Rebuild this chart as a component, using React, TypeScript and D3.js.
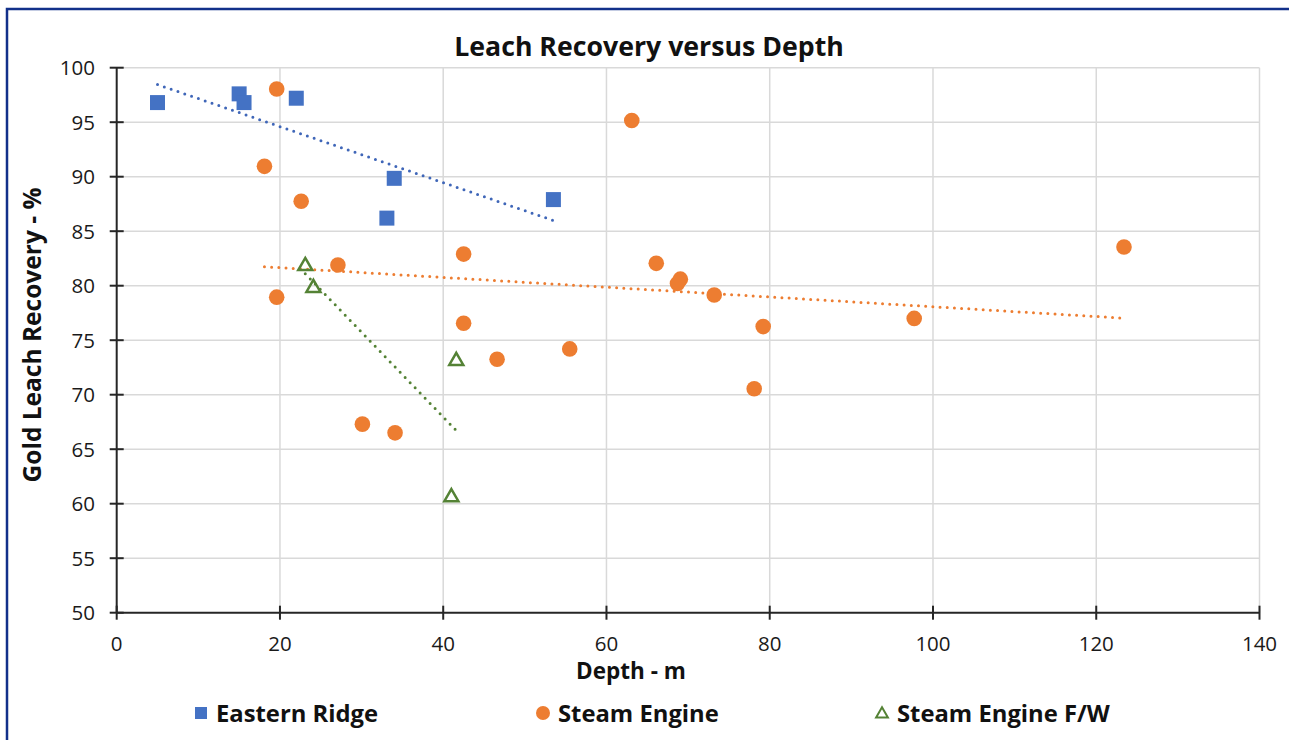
import { useEffect, useRef } from "react";
import * as d3 from "d3";

// values: [depth m, recovery %]
const easternRidge: [number, number][] = [
  [5.0, 96.8], [15.0, 97.6], [15.6, 96.8], [22.0, 97.2],
  [34.0, 89.85], [33.1, 86.2], [53.5, 87.9],
];
const steamEngine: [number, number][] = [
  [19.6, 98.05], [18.1, 90.95], [22.6, 87.75], [27.1, 81.9], [19.6, 78.95],
  [42.5, 82.9], [42.5, 76.55], [46.6, 73.25], [55.5, 74.2], [30.1, 67.3],
  [34.1, 66.5], [63.1, 95.15], [66.1, 82.05], [69.05, 80.6], [68.7, 80.2],
  [73.2, 79.15], [79.2, 76.25], [78.1, 70.55], [97.7, 77.0], [123.4, 83.55],
];
const steamEngineFW: [number, number][] = [
  [23.1, 81.8], [24.1, 79.8], [41.6, 73.1], [41.0, 60.6],
];
const xTicks = [0, 20, 40, 60, 80, 100, 120, 140];
const yTicks = [50, 55, 60, 65, 70, 75, 80, 85, 90, 95, 100];
const seriesNames = ["Eastern Ridge", "Steam Engine", "Steam Engine F/W"];

const BLUE = "#4472C4", ORANGE = "#ED7D31", GREEN = "#548235";
const FONT = "'Open Sans', Lato, sans-serif";

// least squares fit, drawn from min x to max x like Excel's linear trendline
function trend(pts: [number, number][]): [number, number][] {
  const mx = d3.mean(pts, d => d[0])!, my = d3.mean(pts, d => d[1])!;
  const sxy = d3.sum(pts, d => (d[0] - mx) * (d[1] - my));
  const sxx = d3.sum(pts, d => (d[0] - mx) ** 2);
  const b = sxy / sxx, a = my - b * mx;
  const [x0, x1] = d3.extent(pts, d => d[0]) as [number, number];
  return [[x0, a + b * x0], [x1, a + b * x1]];
}

export default function App() {
  const svgRef = useRef<SVGSVGElement>(null);

  useEffect(() => {
    const svg = d3.select(svgRef.current);
    svg.selectAll("*").remove();
    const width = 1289, height = 740;
    svg.attr("width", width).attr("height", height);

    svg.append("rect").attr("x", 7).attr("y", 9).attr("width", width).attr("height", height)
      .attr("fill", "#fff").attr("stroke", "#12308a").attr("stroke-width", 2.5);

    const x = d3.scaleLinear().domain([0, 140]).range([116.7, 1259.5]);
    const y = d3.scaleLinear().domain([50, 100]).range([612.7, 67.7]);
    const g = svg.append("g");

    // grid
    g.selectAll(".hg").data(yTicks.slice(1)).enter().append("line")
      .attr("x1", x(0)).attr("x2", x(140)).attr("y1", d => y(d)).attr("y2", d => y(d))
      .attr("stroke", "#d9d9d9").attr("stroke-width", 1.5);
    g.selectAll(".vg").data(xTicks.slice(1)).enter().append("line")
      .attr("x1", d => x(d)).attr("x2", d => x(d)).attr("y1", y(50)).attr("y2", y(100))
      .attr("stroke", "#d9d9d9").attr("stroke-width", 1.5);

    // axes with cross tick marks
    const axisColor = "#262626";
    g.append("line").attr("x1", x(0)).attr("x2", x(0)).attr("y1", y(50)).attr("y2", y(100))
      .attr("stroke", axisColor).attr("stroke-width", 2);
    g.append("line").attr("x1", x(0)).attr("x2", x(140)).attr("y1", y(50)).attr("y2", y(50))
      .attr("stroke", axisColor).attr("stroke-width", 2);
    g.selectAll(".yt").data(yTicks).enter().append("line")
      .attr("x1", x(0) - 7).attr("x2", x(0) + 7).attr("y1", d => y(d)).attr("y2", d => y(d))
      .attr("stroke", axisColor).attr("stroke-width", 2);
    g.selectAll(".xt").data(xTicks).enter().append("line")
      .attr("x1", d => x(d)).attr("x2", d => x(d)).attr("y1", y(50) - 7).attr("y2", y(50) + 7)
      .attr("stroke", axisColor).attr("stroke-width", 2);

    g.selectAll(".yl").data(yTicks).enter().append("text")
      .attr("x", 95).attr("y", d => y(d) + 7.5).attr("text-anchor", "end")
      .style("font-family", FONT).style("font-size", "20.5px").attr("fill", "#1a1a1a")
      .text(d => d);
    g.selectAll(".xl").data(xTicks).enter().append("text")
      .attr("x", d => x(d)).attr("y", 651).attr("text-anchor", "middle")
      .style("font-family", FONT).style("font-size", "20.5px").attr("fill", "#1a1a1a")
      .text(d => d);

    // titles
    svg.append("text").attr("x", 649).attr("y", 56).attr("text-anchor", "middle")
      .style("font-family", FONT).style("font-size", "26.7px").style("font-weight", "bold").attr("fill", "#111")
      .text("Leach Recovery versus Depth");
    svg.append("text").attr("x", 631).attr("y", 679).attr("text-anchor", "middle")
      .style("font-family", FONT).style("font-size", "22.5px").style("font-weight", "bold").attr("fill", "#111")
      .text("Depth - m");
    svg.append("text").attr("transform", "translate(41,335) rotate(-90)").attr("text-anchor", "middle")
      .style("font-family", FONT).style("font-size", "24.5px").style("font-weight", "bold").attr("fill", "#111")
      .text("Gold Leach Recovery - %");

    // trendlines
    const line = d3.line<[number, number]>().x(d => x(d[0])).y(d => y(d[1]));
    [[easternRidge, "#3f66b8"], [steamEngine, ORANGE], [steamEngineFW, GREEN]].forEach(([pts, c]) => {
      g.append("path").datum(trend(pts as [number, number][])).attr("d", line)
        .attr("fill", "none").attr("stroke", c as string).attr("stroke-width", 3)
        .attr("stroke-linecap", "round").attr("stroke-dasharray", "0 7.2");
    });

    // markers
    g.selectAll(".sq").data(easternRidge).enter().append("path")
      .attr("d", d3.symbol(d3.symbolSquare, 225)())
      .attr("transform", d => `translate(${x(d[0])},${y(d[1])})`).attr("fill", BLUE);
    g.selectAll(".ci").data(steamEngine).enter().append("circle")
      .attr("cx", d => x(d[0])).attr("cy", d => y(d[1])).attr("r", 7.8).attr("fill", ORANGE);
    g.selectAll(".tr").data(steamEngineFW).enter().append("path")
      .attr("d", d3.symbol(d3.symbolTriangle, 85)())
      .attr("transform", d => `translate(${x(d[0])},${y(d[1])})`)
      .attr("fill", "none").attr("stroke", GREEN).attr("stroke-width", 2.5);

    // legend
    const legendX = [201, 543, 882];
    const leg = svg.append("g");
    leg.append("rect").attr("x", legendX[0] - 6).attr("y", 707).attr("width", 12).attr("height", 12).attr("fill", BLUE);
    leg.append("circle").attr("cx", legendX[1]).attr("cy", 713).attr("r", 7).attr("fill", ORANGE);
    leg.append("path").attr("d", d3.symbol(d3.symbolTriangle, 60)())
      .attr("transform", `translate(${legendX[2]},714)`).attr("fill", "none").attr("stroke", GREEN).attr("stroke-width", 2);
    leg.selectAll(".lt").data(seriesNames).enter().append("text")
      .attr("x", (d, i) => legendX[i] + 15).attr("y", 722)
      .style("font-family", FONT).style("font-size", "23.8px").style("font-weight", "bold").attr("fill", "#111")
      .text(d => d);
  }, []);

  return (
    <>
      <style>{`body{margin:0}`}</style>
      <svg ref={svgRef} style={{ display: "block" }} />
    </>
  );
}
